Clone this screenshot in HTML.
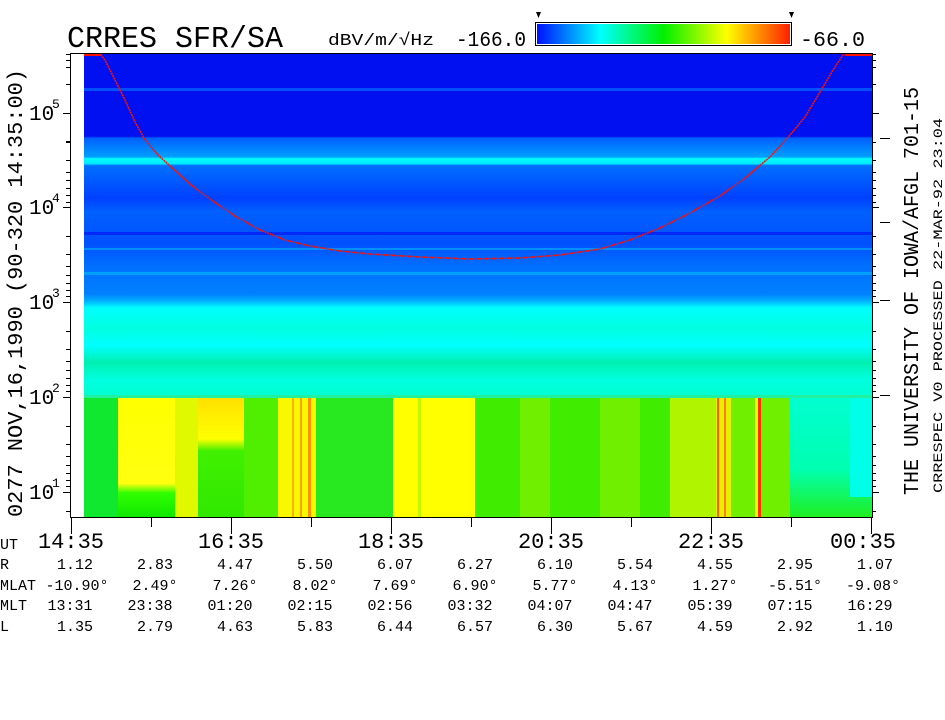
<!DOCTYPE html>
<html><head><meta charset="utf-8"><style>
html,body{margin:0;padding:0;background:#fff;width:945px;height:720px;overflow:hidden}
svg{display:block}
text{font-family:"Liberation Mono","DejaVu Sans Mono",monospace;fill:#000}
</style></head><body>
<svg width="945" height="720" viewBox="0 0 945 720" xmlns="http://www.w3.org/2000/svg">
<defs>
<linearGradient id="cb" x1="0" x2="1" y1="0" y2="0">
<stop offset="0" stop-color="#0010ff"/><stop offset="0.25" stop-color="#00ffff"/><stop offset="0.5" stop-color="#00f000"/><stop offset="0.75" stop-color="#ffff00"/><stop offset="1" stop-color="#ff2000"/>
</linearGradient>
<linearGradient id="up" x1="0" x2="0" y1="54" y2="397" gradientUnits="userSpaceOnUse">
<stop offset="0" stop-color="#0010f0"/>
<stop offset="0.24" stop-color="#0010f0"/>
<stop offset="0.245" stop-color="#0060ff"/>
<stop offset="0.3" stop-color="#00a0ff"/>
<stop offset="0.305" stop-color="#00ffff"/>
<stop offset="0.32" stop-color="#00e8ff"/>
<stop offset="0.325" stop-color="#0070ff"/>
<stop offset="0.42" stop-color="#0040ff"/>
<stop offset="0.46" stop-color="#0060ff"/>
<stop offset="0.55" stop-color="#0050ff"/>
<stop offset="0.62" stop-color="#0070ff"/>
<stop offset="0.7" stop-color="#0080ff"/>
<stop offset="0.72" stop-color="#00b0ff"/>
<stop offset="0.74" stop-color="#00ffff"/>
<stop offset="0.8" stop-color="#00ffe0"/>
<stop offset="0.85" stop-color="#00ffff"/>
<stop offset="0.9" stop-color="#00f0b0"/>
<stop offset="0.95" stop-color="#00ffe0"/>
<stop offset="1" stop-color="#00ffd0"/>
</linearGradient>
<linearGradient id="yb" x1="0" x2="0" y1="0" y2="1">
<stop offset="0" stop-color="#ffff00"/><stop offset="0.72" stop-color="#ffff10"/><stop offset="0.8" stop-color="#30ff00"/><stop offset="1" stop-color="#10e800"/>
</linearGradient>
<linearGradient id="yb2" x1="0" x2="0" y1="0" y2="1">
<stop offset="0" stop-color="#ffe000"/><stop offset="0.35" stop-color="#ffff00"/><stop offset="0.45" stop-color="#40f000"/><stop offset="1" stop-color="#30e800"/>
</linearGradient>
<linearGradient id="cy" x1="0" x2="0" y1="0" y2="1">
<stop offset="0" stop-color="#00ffd0"/><stop offset="0.6" stop-color="#00ffb0"/><stop offset="1" stop-color="#20f020"/>
</linearGradient>
</defs>

<!-- title -->
<text x="67" y="47" font-size="31" textLength="216" lengthAdjust="spacingAndGlyphs">CRRES SFR/SA</text>
<text x="328" y="45" font-size="17" textLength="106" lengthAdjust="spacingAndGlyphs">dBV/m/√Hz</text>
<text x="456" y="46" font-size="21" textLength="70" lengthAdjust="spacingAndGlyphs">-166.0</text>
<text x="800" y="46" font-size="21" textLength="65" lengthAdjust="spacingAndGlyphs">-66.0</text>
<rect x="535.5" y="22.5" width="256" height="23" fill="#fff" stroke="#000"/>
<rect x="537" y="24" width="253" height="20" fill="url(#cb)"/>
<path d="M536 12h5l-2.5 6z M789 12h5l-2.5 6z" fill="#000"/>

<!-- spectrogram upper -->
<rect x="84" y="54" width="788" height="343" fill="url(#up)"/>
<rect x="84" y="88" width="788" height="3" fill="#0050ff"/>
<rect x="84" y="232" width="788" height="3" fill="#0028f8"/>
<rect x="84" y="248" width="788" height="2" fill="#0090ff"/>
<rect x="84" y="272" width="788" height="3" fill="#00a0ff"/>

<!-- lower region -->
<rect x="84" y="397" width="788" height="120" fill="#20e810"/>
<rect x="84" y="397" width="34" height="120" fill="#10e830"/>
<rect x="118" y="397" width="57" height="120" fill="url(#yb)"/>
<rect x="175" y="397" width="23" height="120" fill="#e0f800"/>
<rect x="198" y="397" width="46" height="120" fill="url(#yb2)"/>
<rect x="244" y="397" width="34" height="120" fill="#50ee00"/>
<rect x="278" y="397" width="38" height="120" fill="#f8f800"/>
<rect x="292" y="397" width="2" height="120" fill="#ffb000"/>
<rect x="300" y="397" width="2" height="120" fill="#ffa000"/>
<rect x="308" y="397" width="3" height="120" fill="#ff9000"/>
<rect x="316" y="397" width="77" height="120" fill="#28e820"/>
<rect x="393" y="397" width="82" height="120" fill="#ffff00"/>
<rect x="418" y="397" width="3" height="120" fill="#c0f800"/>
<rect x="475" y="397" width="195" height="120" fill="#40ec00"/>
<rect x="520" y="397" width="30" height="120" fill="#70f000"/>
<rect x="600" y="397" width="40" height="120" fill="#70f000"/>
<rect x="670" y="397" width="46" height="120" fill="#b0f400"/>
<rect x="716" y="397" width="15" height="120" fill="#e8f000"/>
<rect x="717" y="397" width="2" height="120" fill="#ff6000"/>
<rect x="724" y="397" width="2" height="120" fill="#ff8000"/>
<rect x="731" y="397" width="59" height="120" fill="#70f000"/>
<rect x="758" y="397" width="3" height="120" fill="#ff3000"/>
<rect x="755" y="397" width="3" height="120" fill="#ffff00"/>
<rect x="790" y="397" width="82" height="120" fill="url(#cy)"/>
<rect x="850" y="397" width="22" height="100" fill="#00ffe8"/>
<rect x="84" y="395" width="788" height="3" fill="#20f0a0"/>

<!-- red curve -->
<path d="M84 55 H101 L105 60 L115 80 L125 100 L135 122 L145 140 L158 155 L170 166 L190 184 L210 199 L235 216 L260 230 L285 240 L310 246 L340 251 L370 254 L420 257 L470 259 L520 258 L560 255 L600 249 L630 240 L660 228 L690 213 L720 196 L745 178 L770 157 L790 135 L805 117 L820 92 L833 70 L843 55 H872" fill="none" stroke="#ff1000" stroke-width="1.6" stroke-dasharray="2 0.7"/>
<rect x="84" y="53" width="18" height="3" fill="#ff1000"/>
<rect x="846" y="53" width="26" height="3" fill="#ff1000"/>

<!-- frame -->
<line x1="70" y1="53.5" x2="872" y2="53.5" stroke="#000"/>
<line x1="70.5" y1="54" x2="70.5" y2="518" stroke="#000"/>
<line x1="70" y1="517.5" x2="873" y2="517.5" stroke="#000"/>
<line x1="872.5" y1="53" x2="872.5" y2="518" stroke="#000"/>

<g stroke="#000" stroke-width="1">
<!-- left y ticks -->
<path d="M63 113.5h7M63 207.5h7M63 302.5h7M63 397.5h7M63 492.5h7"/>
<path d="M66 54.5h4M66 60.5h4M66 67.5h4M66 84.5h4M66 142.5h4M66 141.5h4M66 160.5h4M66 172.5h4M66 180.5h4M66 188.5h4M66 195.5h4M66 202.5h4M66 236.5h4M66 254.5h4M66 266.5h4M66 275.5h4M66 283.5h4M66 290.5h4M66 296.5h4M66 331.5h4M66 349.5h4M66 361.5h4M66 370.5h4M66 378.5h4M66 385.5h4M66 391.5h4M66 426.5h4M66 444.5h4M66 456.5h4M66 465.5h4M66 473.5h4M66 480.5h4M66 486.5h4M66 511.5h4"/>
<!-- right y ticks -->
<path d="M872 113.5h7M872 207.5h7M872 302.5h7M872 397.5h7M872 492.5h7"/>
<path d="M872 54.5h4M872 60.5h4M872 67.5h4M872 84.5h4M872 142.5h4M872 160.5h4M872 172.5h4M872 180.5h4M872 188.5h4M872 195.5h4M872 202.5h4M872 236.5h4M872 254.5h4M872 266.5h4M872 275.5h4M872 283.5h4M872 290.5h4M872 296.5h4M872 331.5h4M872 349.5h4M872 361.5h4M872 370.5h4M872 378.5h4M872 385.5h4M872 391.5h4M872 426.5h4M872 444.5h4M872 456.5h4M872 465.5h4M872 473.5h4M872 480.5h4M872 486.5h4M872 511.5h4"/>
<path d="M880 138.5h10M880 222.5h10M880 300.5h10M880 395.5h10"/>
<!-- x ticks -->
<path d="M71.5 517v17M231.5 517v17M391.5 517v17M551.5 517v17M711.5 517v17M871.5 517v17"/>
<path d="M151.5 517v10M311.5 517v10M471.5 517v10M631.5 517v10M791.5 517v10"/>
</g>

<!-- y labels -->
<g font-size="21">
<text x="29" y="120">10</text><text x="52" y="108" font-size="13">5</text>
<text x="29" y="214">10</text><text x="52" y="202" font-size="13">4</text>
<text x="29" y="309">10</text><text x="52" y="297" font-size="13">3</text>
<text x="29" y="404">10</text><text x="52" y="392" font-size="13">2</text>
<text x="29" y="499">10</text><text x="52" y="487" font-size="13">1</text>
</g>
<text transform="translate(22,517) rotate(-90)" font-size="21" textLength="448" lengthAdjust="spacingAndGlyphs">0277  NOV,16,1990  (90-320 14:35:00)</text>
<text transform="translate(918,495) rotate(-90)" font-size="21" textLength="408" lengthAdjust="spacingAndGlyphs">THE UNIVERSITY OF IOWA/AFGL 701-15</text>
<text transform="translate(942,493) rotate(-90)" font-size="13" textLength="375" lengthAdjust="spacingAndGlyphs">CRRESPEC V0   PROCESSED 22-MAR-92  23:04</text>

<!-- x labels -->
<g font-size="22" text-anchor="middle">
<text x="71" y="548">14:35</text><text x="231" y="548">16:35</text><text x="391" y="548">18:35</text>
<text x="551" y="548">20:35</text><text x="711" y="548">22:35</text><text x="863" y="548">00:35</text>
</g>
<g font-size="15">
<text x="0" y="549">UT</text>
<text x="0" y="569">R</text>
<text x="0" y="590">MLAT</text>
<text x="0" y="610">MLT</text>
<text x="0" y="631">L</text>
</g>
<g font-size="15" text-anchor="middle">
<text x="75" y="569">1.12</text><text x="155" y="569">2.83</text><text x="235" y="569">4.47</text><text x="315" y="569">5.50</text><text x="395" y="569">6.07</text><text x="475" y="569">6.27</text><text x="555" y="569">6.10</text><text x="635" y="569">5.54</text><text x="715" y="569">4.55</text><text x="795" y="569">2.95</text><text x="875" y="569">1.07</text>
<text x="77" y="590">-10.90°</text><text x="155" y="590">2.49°</text><text x="235" y="590">7.26°</text><text x="315" y="590">8.02°</text><text x="395" y="590">7.69°</text><text x="475" y="590">6.90°</text><text x="555" y="590">5.77°</text><text x="635" y="590">4.13°</text><text x="715" y="590">1.27°</text><text x="795" y="590">-5.51°</text><text x="873" y="590">-9.08°</text>
<text x="70" y="610">13:31</text><text x="150" y="610">23:38</text><text x="230" y="610">01:20</text><text x="310" y="610">02:15</text><text x="390" y="610">02:56</text><text x="470" y="610">03:32</text><text x="550" y="610">04:07</text><text x="630" y="610">04:47</text><text x="710" y="610">05:39</text><text x="790" y="610">07:15</text><text x="870" y="610">16:29</text>
<text x="75" y="631">1.35</text><text x="155" y="631">2.79</text><text x="235" y="631">4.63</text><text x="315" y="631">5.83</text><text x="395" y="631">6.44</text><text x="475" y="631">6.57</text><text x="555" y="631">6.30</text><text x="635" y="631">5.67</text><text x="715" y="631">4.59</text><text x="795" y="631">2.92</text><text x="875" y="631">1.10</text>
</g>
</svg>
</body></html>
